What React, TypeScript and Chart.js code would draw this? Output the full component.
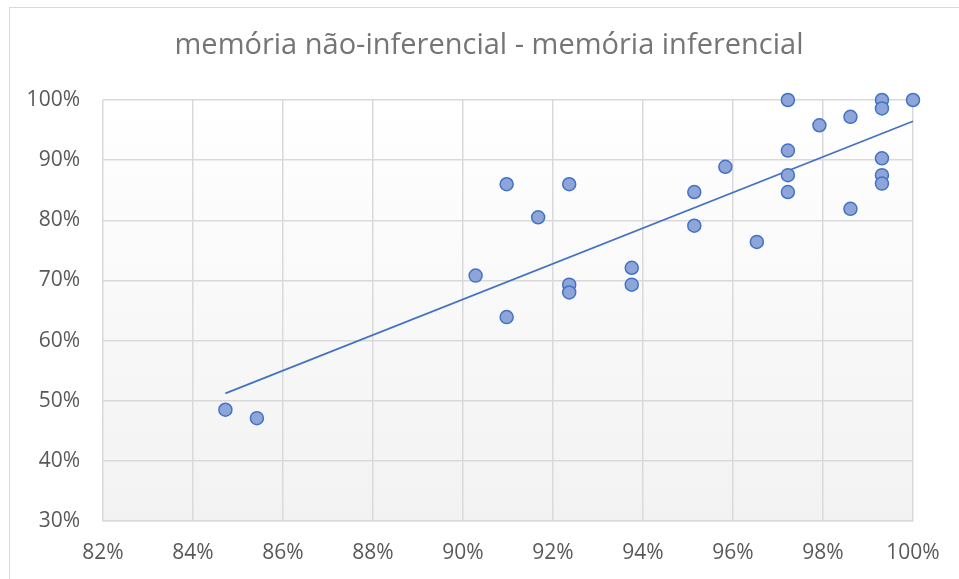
import React, { useEffect, useRef } from "react";
import { Chart, registerables } from "chart.js";

Chart.register(...registerables);

const TITLE = "memória não-inferencial - memória inferencial";

// x: memória inferencial (%), y: memória não-inferencial (%)
const xValues = [
  84.72, 85.42, 90.28, 90.97, 90.97, 91.67, 92.36, 92.36, 92.36, 93.75, 93.75,
  95.14, 95.14, 95.83, 96.53, 97.22, 97.22, 97.22, 97.22, 97.92, 98.61, 98.61,
  99.31, 99.31, 99.31, 99.31, 99.31, 100,
];
const yValues = [
  48.5, 47.1, 70.8, 86.0, 63.9, 80.5, 86.0, 69.3, 68.0, 72.1, 69.3,
  84.7, 79.1, 88.9, 76.4, 100, 91.6, 87.5, 84.7, 95.8, 97.2, 81.9,
  100, 98.6, 90.3, 87.5, 86.1, 100,
];

const xTicks = [82, 84, 86, 88, 90, 92, 94, 96, 98, 100];
const yTicks = [30, 40, 50, 60, 70, 80, 90, 100];

function regression(xs: number[], ys: number[]) {
  const n = xs.length;
  const mx = xs.reduce((a, b) => a + b, 0) / n;
  const my = ys.reduce((a, b) => a + b, 0) / n;
  let sxy = 0, sxx = 0;
  for (let i = 0; i < n; i++) {
    sxy += (xs[i] - mx) * (ys[i] - my);
    sxx += (xs[i] - mx) * (xs[i] - mx);
  }
  const b = sxy / sxx;
  const a = my - b * mx;
  return { a, b };
}

const FONT = "'Open Sans', 'Noto Sans', sans-serif";

export default function App() {
  const ref = useRef<HTMLCanvasElement | null>(null);

  useEffect(() => {
    document.body.style.margin = "0";
    const canvas = ref.current!;
    const { a, b } = regression(xValues, yValues);
    const minX = Math.min(...xValues);
    const maxX = Math.max(...xValues);
    const points = xValues.map((x, i) => ({ x, y: yValues[i] }));
    const trend = [
      { x: minX, y: a + b * minX },
      { x: maxX, y: a + b * maxX },
    ];

    const bgPlugin = {
      id: "bg",
      beforeDraw(chart: any) {
        const ctx = chart.ctx;
        const ca = chart.chartArea;
        ctx.save();
        ctx.fillStyle = "#ffffff";
        ctx.fillRect(0, 0, chart.width, chart.height);
        ctx.strokeStyle = "#d9d9d9";
        ctx.lineWidth = 1;
        ctx.strokeRect(9.5, 7.5, chart.width + 20, chart.height + 20);
        const g = ctx.createLinearGradient(0, ca.top, 0, ca.bottom);
        g.addColorStop(0, "#ffffff");
        g.addColorStop(1, "#f2f2f2");
        ctx.fillStyle = g;
        ctx.fillRect(ca.left, ca.top, ca.right - ca.left, ca.bottom - ca.top);
        ctx.fillStyle = "#757575";
        ctx.font = `29px ${FONT}`;
        ctx.textAlign = "center";
        ctx.textBaseline = "middle";
        ctx.fillText(TITLE, 489, 46);
        ctx.restore();
      },
    };

    const chart = new Chart(canvas, {
      type: "scatter",
      data: {
        datasets: [
          {
            type: "scatter",
            data: points,
            backgroundColor: "#8ea5da",
            borderColor: "#4472c4",
            borderWidth: 1.5,
            pointRadius: 6.5,
            clip: false,
            order: 1,
          } as any,
          {
            type: "line",
            data: trend,
            borderColor: "#4472c4",
            borderWidth: 1.75,
            pointRadius: 0,
            fill: false,
            clip: false,
            order: 2,
          } as any,
        ],
      },
      options: {
        animation: false,
        responsive: false,
        maintainAspectRatio: false,
        layout: { padding: { left: 0, right: 46, top: 100, bottom: 0 } },
        plugins: {
          legend: { display: false },
          title: { display: false },
          tooltip: { enabled: false },
        },
        scales: {
          x: {
            type: "linear",
            min: 82,
            max: 100,
            afterBuildTicks(axis: any) {
              axis.ticks = xTicks.map((v) => ({ value: v }));
            },
            afterFit(axis: any) {
              axis.height = 58;
            },
            grid: { color: "#d9d9d9", lineWidth: 1.5, drawTicks: false },
            border: { display: true, color: "#d9d9d9", width: 1.5 },
            ticks: {
              padding: 19,
              color: "#595959",
              font: { family: FONT, size: 21 },
              callback: (v: any) => `${v}%`,
              maxRotation: 0,
            },
          },
          y: {
            type: "linear",
            min: 30,
            max: 100,
            afterBuildTicks(axis: any) {
              axis.ticks = yTicks.map((v) => ({ value: v }));
            },
            afterFit(axis: any) {
              axis.width = 103;
            },
            grid: { color: "#d9d9d9", lineWidth: 1.5, drawTicks: false },
            border: { display: false },
            ticks: {
              padding: 23,
              color: "#595959",
              font: { family: FONT, size: 21 },
              callback: (v: any) => `${v}%`,
            },
          },
        },
      },
      plugins: [bgPlugin],
    });
    return () => chart.destroy();
  }, []);

  return (
    <div style={{ width: 959, height: 579 }}>
      <canvas ref={ref} width={959} height={579} style={{ display: "block" }} />
    </div>
  );
}
